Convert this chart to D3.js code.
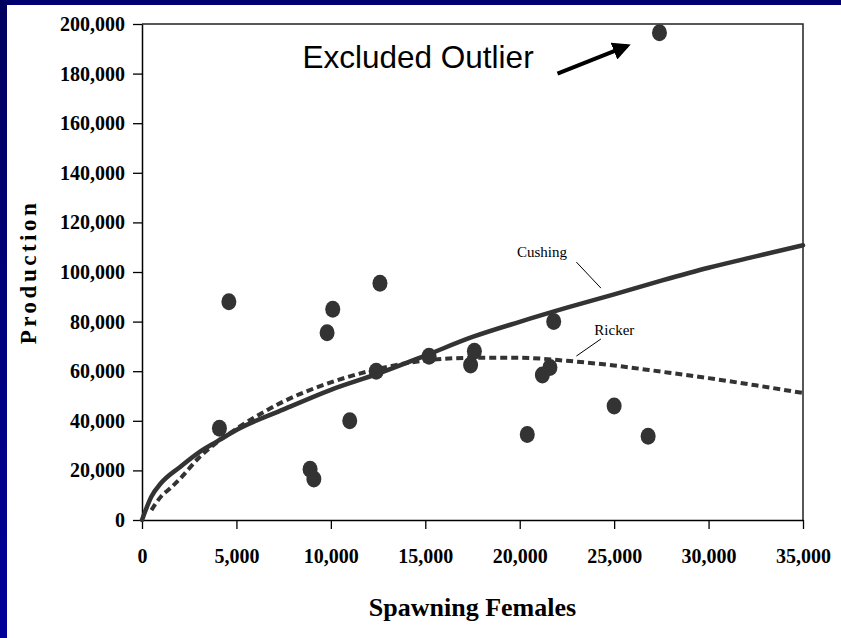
<!DOCTYPE html>
<html>
<head>
<meta charset="utf-8">
<script src="https://cdn.jsdelivr.net/npm/d3@7"></script>
<style>
  body { margin: 0; background: #fff; }
  svg { display: block; }
</style>
</head>
<body>
<div id="chart"></div>
<script>
// observed stock / production points
var spawners = [4100, 4600, 8900, 9100, 9800, 10100, 11000, 12400, 12600, 15200,
                17400, 17600, 20400, 21200, 21600, 21800, 25000, 26800];
var production = [37000, 88000, 20500, 16500, 75500, 85000, 40000, 60000, 95500, 66000,
                  62500, 68000, 34500, 58500, 61500, 80000, 46000, 33800];

// excluded outlier
var outlierS = [27400];
var outlierP = [196500];

// Cushing curve
var cushingS = [0, 500, 1000, 2000, 3000, 4000, 5000, 7500, 10000, 12500, 15000,
                17500, 20000, 22500, 25000, 27500, 30000, 32500, 35000];
var cushingP = [0, 9500, 14800, 21300, 27200, 31800, 36300, 44600, 52500, 59000, 66300,
                73800, 79900, 85600, 91000, 96500, 101700, 106300, 110800];

// Ricker curve
var rickerS = [500, 1000, 1500, 2000, 3000, 4000, 5000, 7500, 10000, 12500, 15000,
               17500, 20000, 22500, 25000, 27500, 30000, 32500, 35000];
var rickerP = [4000, 9400, 12800, 16500, 25000, 31500, 36800, 47800, 55500, 60900, 64300,
               65400, 65400, 64200, 62300, 59800, 57200, 54300, 51200];

var xTicks = [0, 5000, 10000, 15000, 20000, 25000, 30000, 35000];
var yTicks = [0, 20000, 40000, 60000, 80000, 100000, 120000, 140000, 160000, 180000, 200000];

function init() {
    var w = 841, h = 638;
    var left = 142, right = 803, top = 24, bottom = 520;
    var ink = "#333";
    var serif = "'Liberation Serif', 'Times New Roman', serif";

    var svg = d3.select("#chart")
        .append("svg")
        .attr("width", w)
        .attr("height", h);

    // navy slide frame on top and left
    var defs = svg.append("defs");
    var grad = defs.append("linearGradient")
        .attr("id", "navy")
        .attr("x1", 0).attr("y1", 0).attr("x2", 0).attr("y2", 1);
    grad.append("stop").attr("offset", "0%").attr("stop-color", "#00005e");
    grad.append("stop").attr("offset", "100%").attr("stop-color", "#00009a");

    svg.append("rect").attr("x", 0).attr("y", 0).attr("width", w).attr("height", 5).attr("fill", "#000070");
    svg.append("rect").attr("x", 0).attr("y", 0).attr("width", 7).attr("height", h).attr("fill", "url(#navy)");

    var marker = defs.append("marker")
        .attr("id", "head")
        .attr("viewBox", "0 0 10 10")
        .attr("refX", 8).attr("refY", 5)
        .attr("markerWidth", 4.5).attr("markerHeight", 4.5)
        .attr("orient", "auto");
    marker.append("path").attr("d", "M0,0 L10,5 L0,10 z").attr("fill", "#000");

    // Scales
    var x = d3.scaleLinear().domain([0, 35000]).range([left, right]);
    var y = d3.scaleLinear().domain([0, 200000]).range([bottom, top]);

    // frame top / right
    svg.append("path")
        .attr("d", `M${left},${top} H${right} V${bottom}`)
        .attr("fill", "none")
        .attr("stroke", "#222")
        .attr("stroke-width", 1.5);

    // Axes
    var fmt = d3.format(",");
    var xAxis = svg.append("g")
        .attr("transform", `translate(0,${bottom})`)
        .call(d3.axisBottom(x).tickValues(xTicks).tickFormat(fmt).tickSize(9).tickSizeOuter(0).tickPadding(20));
    var yAxis = svg.append("g")
        .attr("transform", `translate(${left},0)`)
        .call(d3.axisLeft(y).tickValues(yTicks).tickFormat(fmt).tickSize(9).tickSizeOuter(0).tickPadding(8));

    [xAxis, yAxis].forEach(function (g) {
        g.select(".domain").attr("stroke", "#000").attr("stroke-width", 1.5);
        g.selectAll(".tick line").attr("stroke", "#000").attr("stroke-width", 1.3);
        g.selectAll(".tick text")
            .attr("fill", "#000")
            .style("font-family", serif)
            .style("font-weight", "bold")
            .style("font-size", "20px");
    });

    // curves
    var line = d3.line()
        .x(d => x(d[0]))
        .y(d => y(d[1]))
        .curve(d3.curveMonotoneX);

    svg.append("path")
        .datum(d3.zip(cushingS, cushingP))
        .attr("d", line)
        .attr("fill", "none")
        .attr("stroke", ink)
        .attr("stroke-width", 4.5)
        .attr("stroke-linecap", "round");

    svg.append("path")
        .datum(d3.zip(rickerS, rickerP))
        .attr("d", line)
        .attr("fill", "none")
        .attr("stroke", ink)
        .attr("stroke-width", 4)
        .attr("stroke-dasharray", "7,4");

    // points
    svg.selectAll("ellipse.obs")
        .data(d3.zip(spawners, production).concat(d3.zip(outlierS, outlierP)))
        .enter()
        .append("ellipse")
        .attr("class", "obs")
        .attr("cx", d => x(d[0]))
        .attr("cy", d => y(d[1]))
        .attr("rx", 7.5)
        .attr("ry", 8.5)
        .attr("fill", ink);

    // curve labels with leader lines
    svg.append("text")
        .attr("x", x(19850)).attr("y", y(106000))
        .style("font-family", serif).style("font-size", "15px")
        .text("Cushing");
    svg.append("line")
        .attr("x1", x(23000)).attr("y1", y(104000))
        .attr("x2", x(24300)).attr("y2", y(93500))
        .attr("stroke", "#000").attr("stroke-width", 1);

    svg.append("text")
        .attr("x", x(23950)).attr("y", y(74600))
        .style("font-family", serif).style("font-size", "15px")
        .text("Ricker");
    svg.append("line")
        .attr("x1", x(24300)).attr("y1", y(73000))
        .attr("x2", x(23000)).attr("y2", y(66100))
        .attr("stroke", "#000").attr("stroke-width", 1);

    // outlier note
    svg.append("text")
        .attr("x", x(8500)).attr("y", y(182200))
        .style("font-family", "'Liberation Sans', Arial, sans-serif")
        .style("font-size", "31.5px")
        .text("Excluded Outlier");
    svg.append("line")
        .attr("x1", x(22000)).attr("y1", y(180000))
        .attr("x2", x(25700)).attr("y2", y(191200))
        .attr("stroke", "#000")
        .attr("stroke-width", 4)
        .attr("marker-end", "url(#head)");

    // axis titles
    svg.append("text")
        .attr("x", (left + right) / 2)
        .attr("y", 616)
        .attr("text-anchor", "middle")
        .style("font-family", serif).style("font-weight", "bold").style("font-size", "26px")
        .text("Spawning Females");

    svg.append("text")
        .attr("transform", `translate(36,${(top + bottom) / 2}) rotate(-90)`)
        .attr("text-anchor", "middle")
        .style("font-family", serif).style("font-weight", "bold").style("font-size", "23px")
        .style("letter-spacing", "3.5px")
        .text("Production");
}

window.onload = init;
</script>
</body>
</html>
